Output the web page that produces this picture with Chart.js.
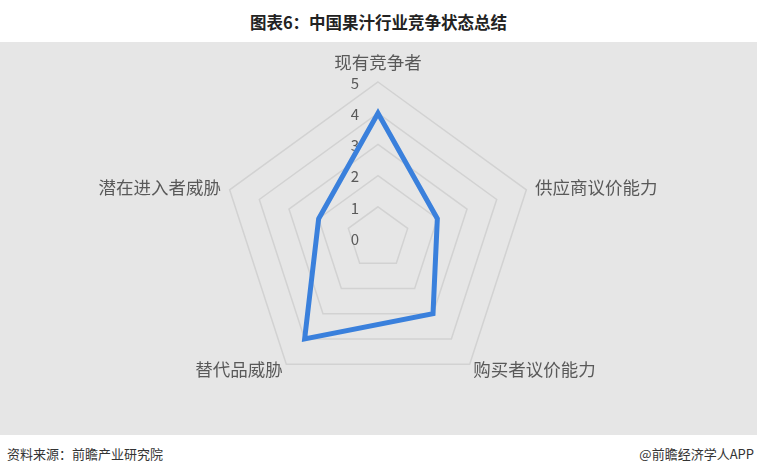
<!DOCTYPE html>
<html>
<head>
<meta charset="utf-8">
<script src="https://cdn.jsdelivr.net/npm/chart.js@4/dist/chart.umd.min.js"></script>
<style>
  body { margin: 0; width: 757px; height: 474px; background: #fff; font-family: "Noto Sans CJK SC", sans-serif; overflow: hidden; }
  #titulo { position: absolute; left: 0; top: 0; width: 757px; height: 42px; line-height: 44px; text-align: center; font-size: 16.5px; font-weight: bold; color: #222; }
  #panel { position: absolute; left: 0; top: 42px; width: 757px; height: 393px; background: #e6e6e6; }
  #fuente { position: absolute; left: 7px; top: 444px; font-size: 13px; color: #333; }
  #marca { position: absolute; right: 3px; top: 444px; font-size: 13px; color: #333; }
</style>
</head>
<body>
<div id="titulo">图表6：中国果汁行业竞争状态总结</div>
<div id="panel"><canvas id="grafico" width="757" height="393"></canvas></div>
<div id="fuente">资料来源：前瞻产业研究院</div>
<div id="marca">@前瞻经济学人APP</div>
<script>
const ejes = ['现有竞争者', '供应商议价能力', '购买者议价能力', '替代品威胁', '潜在进入者威胁'];
const valores = [4, 2, 3, 4, 2];
const ticks = ['0', '1', '2', '3', '4', '5'];

const gris = '#595959';

// Etiquetas de ticks y de ejes dibujadas a mano
const etiquetas = {
  id: 'etiquetas',
  beforeDatasetsDraw(chart) {
    const r = chart.scales.r;
    const ctx = chart.ctx;
    ctx.save();
    ctx.fillStyle = gris;
    ctx.textBaseline = 'middle';

    // numeros 0..5 a la izquierda del eje
    ctx.font = '15px "Noto Sans CJK SC", sans-serif';
    ctx.textAlign = 'center';
    ticks.forEach(t => {
      const d = r.getDistanceFromCenterForValue(parseFloat(t));
      ctx.fillText(t, r.xCenter - 23, r.yCenter - d + 1);
    });

    // nombres de los ejes
    ctx.font = '17.5px "Noto Sans CJK SC", sans-serif';
    ejes.forEach((nombre, i) => {
      const base = r.getPointPosition(i, r.drawingArea);
      let gap = 20;
      if (i > 0) gap = base.y < r.yCenter ? 9 : 6;
      const p = r.getPointPosition(i, r.drawingArea + gap);
      const dx = p.x - r.xCenter;
      ctx.textAlign = Math.abs(dx) < 1 ? 'center' : (dx > 0 ? 'left' : 'right');
      ctx.fillText(nombre, p.x, p.y);
    });
    ctx.restore();
  }
};

new Chart(document.getElementById('grafico'), {
  type: 'radar',
  data: {
    labels: ejes,
    datasets: [{
      data: valores,
      borderColor: '#3a80dc',
      borderWidth: 5,
      pointRadius: 0,
      pointHoverRadius: 0,
      fill: false
    }]
  },
  options: {
    responsive: false,
    animation: false,
    layout: { padding: { top: 40, bottom: 41, left: 0, right: 0 } },
    plugins: { legend: { display: false }, tooltip: { enabled: false } },
    scales: {
      r: {
        min: 0,
        max: 5,
        ticks: { stepSize: 1, display: false },
        pointLabels: { display: false },
        angleLines: { display: false },
        grid: { color: '#d2d2d2', lineWidth: 1.5 }
      }
    }
  },
  plugins: [etiquetas]
});
</script>
</body>
</html>
